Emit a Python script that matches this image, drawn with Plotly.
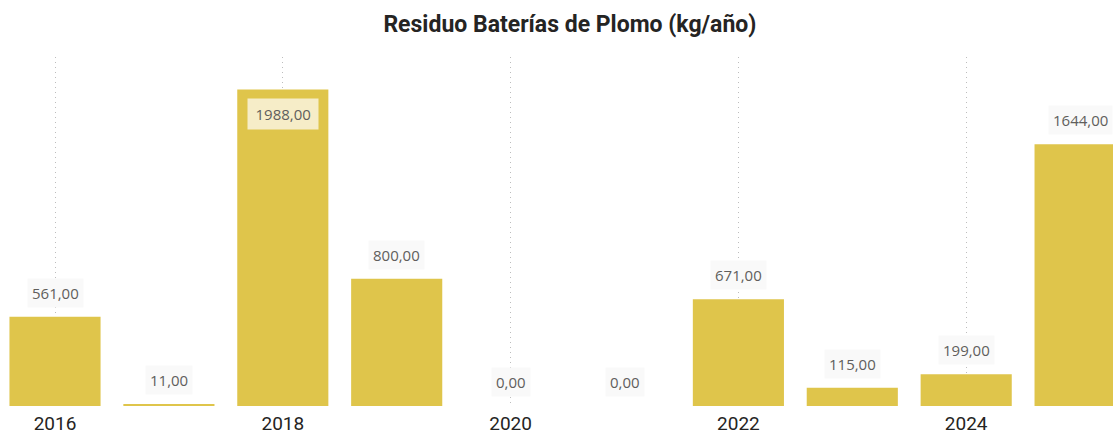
import plotly.graph_objects as go

years = [2016, 2017, 2018, 2019, 2020, 2021, 2022, 2023, 2024, 2025]
residuo_kg = [561, 11, 1988, 800, 0, 0, 671, 115, 199, 1644]
tick_years = [2016, 2018, 2020, 2022, 2024]

BAR_COLOR = '#DFC54B'


def fmt_es(v):
    # formato español: coma decimal
    return f'{v:.2f}'.replace('.', ',')


fig = go.Figure()

fig.add_trace(go.Bar(
    x=years,
    y=residuo_kg,
    width=0.8,
    marker=dict(color=BAR_COLOR, line=dict(width=0)),
    hoverinfo='skip',
))

# Data labels (Power BI style, faint background box)
y_max = max(residuo_kg)
for yr, val in zip(years, residuo_kg):
    inside = val == y_max
    fig.add_annotation(
        x=yr, y=val,
        text='\u2009' + fmt_es(val) + '\u2009' if inside else fmt_es(val),
        showarrow=False,
        yanchor='top' if inside else 'bottom',
        yshift=-9 if inside else 9,
        font=dict(family='Open Sans', size=15, color='#605E5C'),
        bgcolor='#F6EDC8' if inside else '#F9F9F9',
        borderpad=5 if inside else 4,
    )

fig.update_layout(
    width=1113,
    height=434,
    paper_bgcolor='white',
    plot_bgcolor='white',
    showlegend=False,
    bargap=0.2,
    margin=dict(l=0, r=0, t=57, b=28),
    title=dict(
        text='<b>Residuo Baterías de Plomo (kg/año)</b>',
        x=0.512, xanchor='center',
        y=0.945, yanchor='middle',
        font=dict(family='Roboto', size=23, color='#252423'),
    ),
    xaxis=dict(
        range=[2015.517, 2025.289],
        tickvals=tick_years,
        ticktext=[str(y) for y in tick_years],
        showgrid=True,
        gridcolor='#BDBDBD',
        griddash='1px,4px',
        gridwidth=1,
        zeroline=False,
        showline=False,
        ticks='',
        ticklabelstandoff=4,
        tickfont=dict(family='Roboto', size=19, color='#252423'),
        automargin=False,
    ),
    yaxis=dict(
        range=[0, 2192],
        visible=False,
        showgrid=False,
        zeroline=False,
    ),
)

fig.write_html(
    'out.html',
    config={'displayModeBar': False},
    post_script="document.body.style.margin='0';",
)
